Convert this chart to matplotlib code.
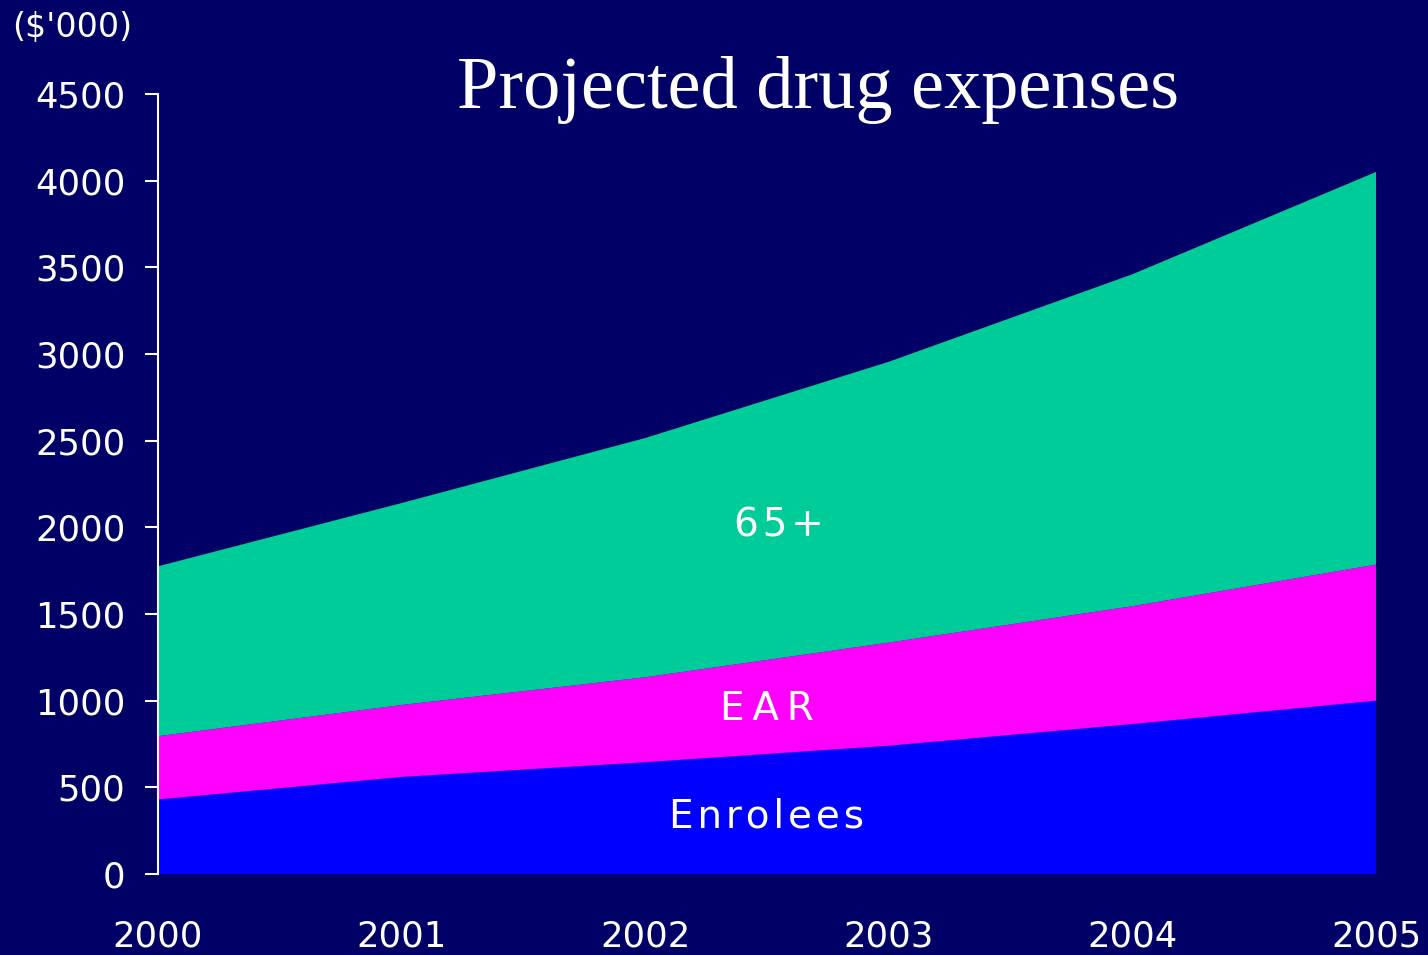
import numpy as np
import matplotlib
matplotlib.use("Agg")
import matplotlib.pyplot as plt

# data, $'000
years = [2000, 2001, 2002, 2003, 2004, 2005]
enrolees = [430, 560, 645, 740, 865, 1000]
ear = [365, 415, 490, 595, 680, 785]
seniors = [980, 1165, 1380, 1620, 1915, 2265]
series_names = ["Enrolees", "EAR", "65+"]
y_ticks = [0, 500, 1000, 1500, 2000, 2500, 3000, 3500, 4000, 4500]

BG = "#000066"
colors = ["#0000ff", "#ff00ff", "#00cc99"]
sans = ["DejaVu Sans"]

fig = plt.figure(figsize=(14.28, 9.55), dpi=100)
fig.set_facecolor(BG)
ax = fig.add_axes([0.1106, 0.0848, 0.853, 0.8168])
ax.set_facecolor(BG)

ax.stackplot(years, enrolees, ear, seniors, colors=colors, lw=0)

ax.set_xlim(2000, 2005)
ax.set_ylim(0, 4500)
ax.set_xticks(years)
ax.set_xticklabels([str(y) for y in years])
ax.set_yticks(y_ticks)
ax.set_yticklabels([str(v) for v in y_ticks])

for s in ["top", "right", "bottom"]:
    ax.spines[s].set_visible(False)
ax.spines["left"].set_color("w")
ax.spines["left"].set_linewidth(1.5)
ax.tick_params(axis="y", colors="w", length=9.5, width=1.5, pad=14)
ax.tick_params(axis="x", colors="w", length=0, pad=33)
for lbl in ax.get_xticklabels() + ax.get_yticklabels():
    lbl.set_family(sans)
    lbl.set_fontsize(25.5)

# labels inside the bands, letter-spaced with hair spaces
lbl_pos = [(2002.5, 330), (2002.5, 950), (2002.55, 2010)]
gaps = ["\u200a", "\u200a\u200a", "\u200a"]
for (x, y), name, g in zip(lbl_pos, series_names, gaps):
    ax.text(x, y, g.join(name), color="w", ha="center", va="center",
            family=sans, fontsize=28)

fig.text(12 / 1428, 1 - 28 / 955, "($'000)", color="w", ha="left", va="center",
         family=sans, fontsize=24)
fig.text(818 / 1428, 1 - 90 / 955, "Projected drug expenses", color="w",
         ha="center", va="center", family="Liberation Serif", fontsize=53.5)

fig.savefig("out.png", facecolor=BG)
